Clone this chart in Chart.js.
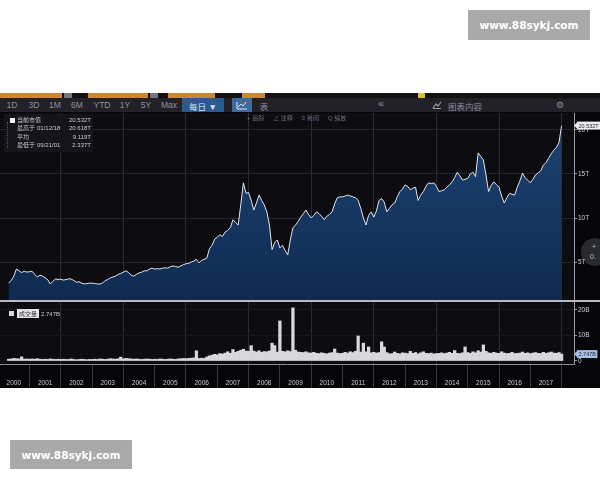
<!DOCTYPE html>
<html lang="zh">
<head>
<meta charset="utf-8">
<title>市值走势</title>
<script src="https://cdn.jsdelivr.net/npm/chart.js@4.4.1/dist/chart.umd.min.js"></script>
<style>
  html, body { margin: 0; padding: 0; background: #fff; }
  body {
    width: 600px; height: 480px; position: relative; overflow: hidden;
    font-family: "Liberation Sans", "Noto Sans CJK SC", sans-serif;
  }
  .wm {
    position: absolute; background: #a9a9a9; color: #fff;
    font: bold 10.5px "DejaVu Sans", sans-serif;
    display: flex; align-items: center; justify-content: center;
  }
  .wm-top { left: 468px; top: 10px; width: 122px; height: 30px; }
  .wm-bottom { left: 10px; top: 440px; width: 122px; height: 29px; }

  #panel { position: absolute; left: 0; top: 93px; width: 600px; height: 295px; background: #060608; overflow: hidden; }
  .strip { position: absolute; left: 0; top: 0; width: 600px; height: 5px; background: #141012; }
  .strip span { position: absolute; top: 0; height: 5px; background: #cf8633; }
  .strip span.g { background: #77767c; }
  .strip span.y { background: #d8c23a; }

  .toolbar { position: absolute; left: 0; top: 5px; width: 600px; height: 14px; background: #222128; color: #8f8f9c; font-size: 8.5px; }
  .toolbar .t { position: absolute; top: 2px; transform: translateX(-50%); white-space: nowrap; }
  .toolbar .btn { position: absolute; top: 0; height: 14px; background: #2b5a8e; color: #dfe6f0; }
  .toolbar .btn.light { background: #3d6ba0; }
  .toolbar .gear { font-family: "DejaVu Sans", sans-serif; font-size: 9px; }

  .chart-wrap { position: absolute; left: 0; top: 20px; width: 600px; height: 275px; }
  .tools { position: absolute; left: 247px; top: 20px; font-size: 6px; color: #6f6f80; white-space: nowrap; z-index: 2; }
  .tools b { font-weight: normal; margin-right: 9px; }

  .legend {
    position: absolute; left: 4px; top: 21px; width: 89px; height: 38px;
    background: rgba(22, 21, 28, 0.9); color: #c9c9d2; font-size: 6px; line-height: 8px; z-index: 2;
  }
  .legend .row { position: absolute; left: 0; width: 89px; height: 8px; white-space: nowrap; }
  .legend .lab { position: absolute; left: 13px; top: 0; }
  .legend .date { position: absolute; left: 33px; top: 0; }
  .legend .val { position: absolute; right: 2px; top: 0; }
  .legend .sq { position: absolute; left: 6px; top: 1.5px; width: 5px; height: 5px; background: #f2f2f2; }
  .legend .tree { position: absolute; left: 3px; top: 8px; width: 0; height: 26px; border-left: 1px dotted #55555f; }

  .vol-legend { position: absolute; left: 9px; top: 216px; height: 8px; font-size: 6px; color: #c9c9d2; z-index: 2; white-space: nowrap; }
  .vol-legend .sq { display: inline-block; width: 5px; height: 5px; background: #d8d8dd; margin-right: 3px; vertical-align: 0; }
  .vol-legend .tag { display: inline-block; background: #e4e4e8; color: #333; padding: 0 2px; margin-right: 2px; }

  .ghost {
    position: absolute; left: 581px; top: 145px; width: 28px; height: 28px; border-radius: 50%;
    background: rgba(110, 110, 122, 0.35); color: #c0c0c8; font-size: 7px; z-index: 2;
  }
</style>
</head>
<body>
<div class="wm wm-top">www.88sykj.com</div>

<div id="panel">
  <div class="strip">
    <span style="left:0;width:62px"></span>
    <span class="g" style="left:64px;width:8px"></span>
    <span style="left:88px;width:60px"></span>
    <span class="g" style="left:150px;width:8px"></span>
    <span style="left:168px;width:47px"></span>
    <span style="left:242px;width:23px"></span>
    <span class="y" style="left:418px;width:7px"></span>
  </div>
  <div class="toolbar">
    <span class="t" style="left:12px">1D</span>
    <span class="t" style="left:34px">3D</span>
    <span class="t" style="left:55px">1M</span>
    <span class="t" style="left:77px">6M</span>
    <span class="t" style="left:102px">YTD</span>
    <span class="t" style="left:125px">1Y</span>
    <span class="t" style="left:146px">5Y</span>
    <span class="t" style="left:169px">Max</span>
    <span class="btn" style="left:182px;width:42px"><span class="t" style="left:21px;color:#dfe6f0">每日 ▼</span></span>
    <span class="btn light" style="left:232px;width:20px">
      <svg width="20" height="14" viewBox="0 0 20 14"><polyline points="5,4 5,11 15,11" fill="none" stroke="#dfe6f0" stroke-width="1"/><polyline points="6,9 9,6 11,8 14,4" fill="none" stroke="#dfe6f0" stroke-width="1"/></svg>
    </span>
    <span class="t" style="left:264px">表</span>
    <span class="t" style="left:381px;font-size:11px;top:-1px">«</span>
    <svg style="position:absolute;left:432px;top:3px" width="10" height="8" viewBox="0 0 10 8"><polyline points="1,7 4,3 6,5 9,1" fill="none" stroke="#9a9aa6" stroke-width="1.2"/><line x1="1" y1="7.5" x2="9" y2="7.5" stroke="#9a9aa6"/></svg>
    <span class="t" style="left:465px">图表内容</span>
    <span class="t gear" style="left:560px">⚙</span>
  </div>

  <div class="chart-wrap"><canvas id="capChart" width="600" height="275"></canvas></div>

  <div class="tools"><b>+ 追踪</b><b>∠ 注释</b><b>≡ 新闻</b><b>Q 缩放</b></div>
  <div class="legend" id="legend"><div class="tree"></div></div>
  <div class="vol-legend"><span class="sq"></span><span class="tag">成交量</span><span id="volLast"></span></div>
  <div class="ghost"><span style="position:absolute;left:11px;top:5px">+</span><span style="position:absolute;left:9px;top:15px">0.</span></div>
</div>

<div class="wm wm-bottom">www.88sykj.com</div>

<script>
const yearTicks = [2000, 2001, 2002, 2003, 2004, 2005, 2006, 2007, 2008, 2009,
  2010, 2011, 2012, 2013, 2014, 2015, 2016, 2017, 2018];
const capTicks = [5, 10, 15, 20];
const volTicks = [0, 5, 10, 15, 20];

// monthly readings, first point May 2000, last Jan 2018
const firstMonth = 2000 + 4 / 12;

// market value, trillions
const marketCap = [
  2.6, 2.9, 3.4, 4.2, 4.0, 3.8, 3.95, 3.85,
  3.9, 3.95, 3.6, 3.3, 3.5, 3.4, 3.2, 3.0, 2.5, 2.8, 3.1, 3.0,
  3.05, 2.95, 3.0, 3.1, 3.05, 2.9, 2.7, 2.75, 2.6, 2.5, 2.55, 2.6,
  2.6, 2.55, 2.5, 2.5, 2.6, 2.9, 3.0, 3.2, 3.3, 3.4, 3.6, 3.7,
  3.85, 4.0, 3.8, 3.5, 3.4, 3.6, 3.75, 3.85, 4.0, 4.0, 4.2, 4.3,
  4.2, 4.25, 4.2, 4.3, 4.35, 4.3, 4.45, 4.55, 4.5, 4.4, 4.55, 4.7,
  4.8, 4.85, 5.0, 5.1, 5.3, 4.9, 5.2, 5.3, 5.45, 6.5, 6.9, 7.6,
  7.8, 8.1, 7.9, 8.4, 8.6, 8.9, 9.8, 9.5, 9.2, 11.5, 14.0, 12.8,
  12.9, 12.0, 10.9, 11.7, 12.6, 12.0, 11.5, 10.7, 9.2, 6.4, 7.2, 7.5,
  6.6, 6.9, 6.3, 5.8, 7.5, 8.9, 9.2, 9.6, 10.1, 10.5, 10.9, 10.4,
  10.0, 10.3, 10.7, 10.5, 10.2, 9.8, 10.2, 10.4, 10.7, 11.6, 12.3, 12.4,
  12.4, 12.5, 12.6, 12.5, 12.4, 12.3, 12.0, 11.1, 10.0, 9.2, 10.3, 10.7,
  10.1, 10.8, 12.0, 12.2, 11.8, 10.7, 11.1, 11.5, 11.7, 12.4, 13.0, 13.3,
  13.75, 13.6, 13.2, 13.4, 13.5, 12.0, 12.6, 13.0, 13.6, 14.0, 13.9, 14.0,
  13.6, 13.0, 13.1, 13.2, 13.5, 13.75, 14.1, 14.6, 15.2, 14.8, 14.3, 14.4,
  14.5, 15.0, 15.2, 14.7, 17.4, 17.0, 16.6, 14.9, 13.0, 13.7, 14.1, 13.8,
  13.5, 12.5, 11.7, 12.3, 12.8, 12.7, 12.6, 13.5, 14.2, 15.1, 14.6, 14.3,
  14.0, 14.4, 14.9, 15.1, 15.4, 16.0, 16.3, 16.8, 17.3, 17.7, 18.0, 18.6,
  20.5
];

// volume, billions
const volume = [
  0.7, 0.8, 1.0, 0.9, 0.8, 1.6, 0.7, 0.8,
  0.7, 0.8, 0.7, 0.9, 0.7, 0.6, 0.7, 0.6, 0.8, 0.7, 0.6, 0.7,
  0.6, 0.7, 0.6, 0.6, 0.8, 0.6, 0.5, 0.6, 0.7, 0.6, 0.5, 0.6,
  0.6, 0.7, 0.6, 0.8, 0.7, 0.6, 0.7, 0.9, 0.8, 0.7, 0.9, 1.5,
  0.8, 1.0, 0.9, 0.8, 0.7, 0.8, 0.7, 0.6, 0.7, 0.8, 0.7, 0.6,
  0.7, 0.6, 0.8, 0.7, 0.6, 0.7, 0.8, 0.7, 0.6, 0.8, 0.9, 1.0,
  0.9, 1.0, 1.1, 1.2, 4.0, 1.0, 1.1, 1.0, 1.6, 2.0, 2.3, 2.6,
  2.4, 2.9, 2.7, 3.1, 3.6, 3.0, 4.5, 3.4, 3.8, 4.2, 4.6, 3.9,
  3.8, 6.0, 3.9, 3.5, 4.0, 3.4, 3.7, 3.6, 3.9, 7.0, 6.0, 3.5,
  15.7, 3.8, 3.6, 4.0, 3.7, 20.8, 4.2, 3.5, 3.4, 3.3, 3.6, 3.2,
  3.1, 3.4, 3.0, 2.9, 3.2, 3.0, 2.8, 3.1, 3.3, 4.7, 3.1, 2.9,
  3.0, 3.4, 3.1, 3.6, 3.3, 3.8, 9.8, 3.5, 7.0, 3.6, 5.5, 3.2,
  3.4, 3.1, 3.3, 7.5, 5.5, 3.3, 2.8, 2.9, 3.5, 3.0, 2.8, 3.2,
  3.1, 2.9, 3.8, 3.0, 3.3, 2.8, 3.2, 3.6, 3.0, 2.9, 3.1, 2.8,
  2.9, 3.0, 3.2, 2.9, 3.1, 3.4, 3.0, 4.1, 3.0, 2.9, 3.2, 5.5,
  3.3, 3.0, 3.6, 3.2, 4.0, 3.5, 6.3, 3.8, 3.2, 3.0, 3.4, 3.1,
  3.0, 3.6, 3.1, 2.9, 3.0, 3.4, 2.9, 3.0, 3.1, 3.5, 3.0, 3.2,
  2.9, 3.1, 3.3, 3.0, 2.9, 3.4, 3.0, 3.2, 3.5, 3.1, 3.0, 3.3,
  2.7
];

const summaryLabels = ["当前市值", "最高于", "平均", "最低于"];
const summaryDates = ["", "01/12/18", "", "09/21/01"];
const summaryValues = ["20.532T", "20.618T", "9.119T", "2.337T"];
const lastVolume = "2.747B";

const toPoints = (values) => values.map((v, i) => ({ x: firstMonth + i / 12, y: v }));

function renderLegend() {
  const box = document.querySelector("#legend");
  box.insertAdjacentHTML("beforeend", summaryLabels
    .map((label, i) => `
      <div class="row" style="top:${2 + i * 8.3}px">
        ${i === 0 ? '<span class="sq"></span>' : ""}
        <span class="lab">${label}</span>
        <span class="date">${summaryDates[i]}</span>
        <span class="val">${summaryValues[i]}</span>
      </div>
    `)
    .join(""));
  document.querySelector("#volLast").textContent = lastVolume;
}

function valueTag(ctx, text, y, bg, fg) {
  ctx.save();
  ctx.font = '5.5px "Liberation Sans", sans-serif';
  const w = ctx.measureText(text).width + 3;
  const x = 577;
  ctx.fillStyle = bg;
  ctx.fillRect(x, y - 4, w, 8);
  ctx.beginPath();
  ctx.moveTo(x - 3, y);
  ctx.lineTo(x, y - 3);
  ctx.lineTo(x, y + 3);
  ctx.fill();
  ctx.fillStyle = fg;
  ctx.textBaseline = "middle";
  ctx.fillText(text, x + 1.5, y + 0.5);
  ctx.restore();
}

// no extra room for edge labels: plot must run to the canvas edge
function noPadding(scale) {
  scale.paddingLeft = 0;
  scale.paddingRight = 0;
  scale.paddingTop = 0;
  scale.paddingBottom = 0;
}

const panelPlugin = {
  id: "panelDecor",
  beforeDraw(chart) {
    const { ctx, chartArea } = chart;
    ctx.save();
    ctx.fillStyle = "#0d0c11";
    ctx.fillRect(chartArea.left, chartArea.top, chartArea.right - chartArea.left, chartArea.bottom - chartArea.top);
    ctx.restore();
  },
  afterDraw(chart) {
    const { ctx } = chart;
    const y = chart.scales.y;
    const yv = chart.scales.yv;
    ctx.save();
    ctx.fillStyle = "#bdb8c6";
    ctx.fillRect(0, y.bottom - 1, chart.width, 2);
    ctx.restore();
    valueTag(ctx, summaryValues[0], y.getPixelForValue(marketCap[marketCap.length - 1]), "#ececf0", "#1c1c22");
    valueTag(ctx, lastVolume, yv.getPixelForValue(volume[volume.length - 1]), "#a8bcdf", "#1b2c4c");
  }
};

function renderChart() {
  Chart.defaults.font.family = '"Liberation Sans", "Noto Sans CJK SC", sans-serif';
  Chart.defaults.color = "#c8c8d0";

  const tickFont = { size: 6.5 };

  new Chart(document.querySelector("#capChart"), {
    type: "line",
    data: {
      datasets: [
        {
          type: "line",
          data: toPoints(marketCap),
          yAxisID: "y",
          borderColor: "#e2e5ec",
          borderWidth: 1,
          pointRadius: 0,
          tension: 0,
          fill: "start",
          backgroundColor: (context) => {
            const { chart } = context;
            const area = chart.chartArea;
            if (!area) return "#163560";
            const s = chart.scales.y;
            const g = chart.ctx.createLinearGradient(0, s.top, 0, s.bottom);
            g.addColorStop(0, "#1e4474");
            g.addColorStop(1, "#0f2a50");
            return g;
          }
        },
        {
          type: "bar",
          data: toPoints(volume),
          yAxisID: "yv",
          backgroundColor: "#d8d8dc",
          borderWidth: 0,
          barPercentage: 1,
          categoryPercentage: 1,
          grouped: false
        }
      ]
    },
    options: {
      responsive: false,
      animation: false,
      events: [],
      layout: { padding: 0, autoPadding: false },
      scales: {
        x: {
          type: "linear",
          offset: false,
          min: 2000.058,
          max: 2018.396,
          afterBuildTicks: (scale) => { scale.ticks = yearTicks.map((v) => ({ value: v })); },
          afterFit: (scale) => { scale.height = 24; noPadding(scale); },
          grid: {
            offset: false,
            color: (c) => (c.tick && c.tick.value % 2 === 0 && c.tick.value > 2000 ? "#2c2b34" : "rgba(0,0,0,0)"),
            tickColor: "#35353d",
            tickLength: 24
          },
          border: { color: "#8d8d95" },
          ticks: {
            autoSkip: false,
            maxRotation: 0,
            labelOffset: 15.65,
            padding: -9,
            font: tickFont,
            color: "#c8c8d0",
            callback: (v) => (v < 2018 ? String(v) : "")
          }
        },
        y: {
          type: "linear",
          position: "right",
          stack: "panel",
          stackWeight: 188,
          min: 0.57,
          max: 21.93,
          afterBuildTicks: (scale) => { scale.ticks = capTicks.map((v) => ({ value: v })); },
          afterFit: (scale) => { scale.width = 26; noPadding(scale); },
          grid: { color: "#25242c", tickColor: "#9a9aa2", tickLength: 3 },
          border: { color: "#9a9aa2" },
          ticks: { font: tickFont, padding: 1, color: "#cfcfd6", callback: (v) => `${v}T` }
        },
        yv: {
          type: "linear",
          position: "right",
          stack: "panel",
          stackWeight: 63,
          min: -1.18,
          max: 23.5,
          afterBuildTicks: (scale) => { scale.ticks = volTicks.map((v) => ({ value: v })); },
          afterFit: (scale) => { scale.width = 26; noPadding(scale); },
          grid: { color: "#17161c", tickColor: "#9a9aa2", tickLength: 3 },
          border: { color: "#9a9aa2" },
          ticks: { font: tickFont, padding: 1, color: "#cfcfd6", callback: (v) => (v === 0 ? "0" : `${v}B`) }
        }
      },
      plugins: {
        legend: { display: false },
        tooltip: { enabled: false }
      }
    },
    plugins: [panelPlugin]
  });
}

renderLegend();
renderChart();
</script>
</body>
</html>
